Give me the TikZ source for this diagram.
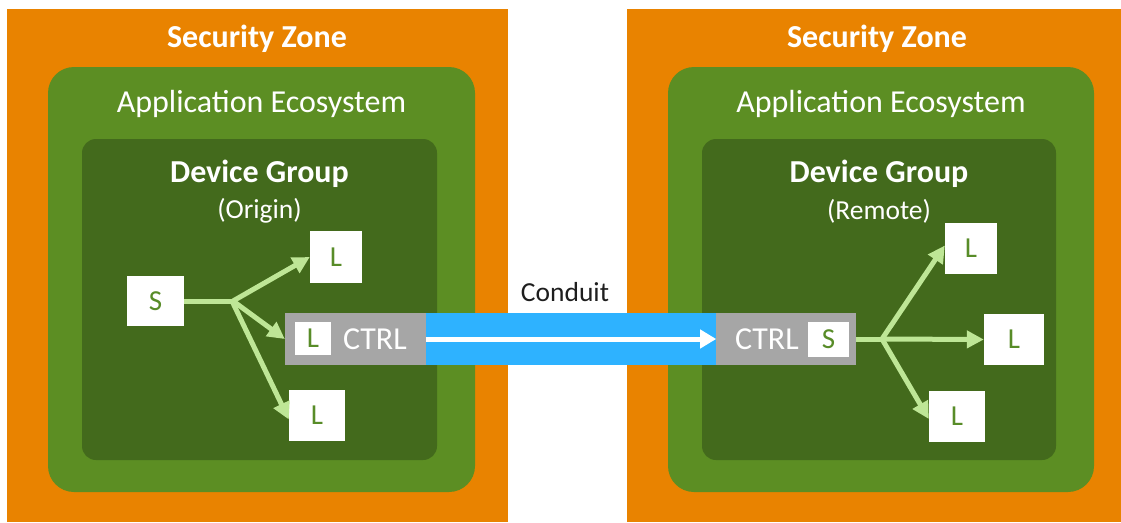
\documentclass[tikz,border=0pt]{standalone}
\usepackage{fontspec}
\setmainfont{Carlito}
\usetikzlibrary{arrows.meta}
\definecolor{zoneor}{RGB}{233,131,0}
\definecolor{ecogreen}{RGB}{92,142,35}
\definecolor{grpgreen}{RGB}{67,106,28}
\definecolor{arrgreen}{RGB}{190,230,150}
\definecolor{lettgreen}{RGB}{88,140,40}
\definecolor{ctrlgray}{RGB}{166,166,166}
\definecolor{conduitblue}{RGB}{46,178,255}
\tikzset{
  zone/.style={fill=zoneor, draw=none},
  eco/.style={fill=ecogreen, draw=none, rounded corners=26pt},
  grp/.style={fill=grpgreen, draw=none, rounded corners=14pt},
  devbox/.style={fill=white, draw=none, inner sep=0pt, text=lettgreen, font=\fontsize{29}{34}\selectfont},
  ctrlbox/.style={fill=ctrlgray, draw=none, inner sep=0pt, minimum width=140pt, minimum height=52pt},
  ctrltext/.style={text=white, font=\fontsize{32}{38}\selectfont},
  ztitle/.style={text=white, font=\bfseries\fontsize{32}{38}\selectfont},
  etitle/.style={text=white, font=\fontsize{32}{38}\selectfont},
  gtitle/.style={text=white, font=\bfseries\fontsize{32}{38}\selectfont},
  gsub/.style={text=white, font=\fontsize{27.5}{32}\selectfont},
  flow/.style={draw=arrgreen, line width=5pt, -{Triangle[length=17pt,width=17pt]}},
  flowline/.style={draw=arrgreen, line width=5pt},
  condarrow/.style={draw=white, line width=5pt, -{Triangle[length=16pt,width=18pt]}},
}
\begin{document}
\begin{tikzpicture}[x=1pt,y=-1pt]
\useasboundingbox (0,0) rectangle (1121,522);
% zones
\fill[zone] (7,9) rectangle (508,522);
\fill[zone] (627,9) rectangle (1121,522);
\fill[eco] (48,67) rectangle (475,492);
\fill[eco] (668,67) rectangle (1094,492);
\fill[grp] (82,139) rectangle (437,460);
\fill[grp] (702,139) rectangle (1056,460);
% titles
\node[ztitle] (zl) at (257,39) {Security Zone};
\node[ztitle] (zr) at (877,39) {Security Zone};
\node[etitle] (el) at (261.5,104) {Application Ecosystem};
\node[etitle] (er) at (881,104) {Application Ecosystem};
\node[gtitle] (gl) at (259.5,174) {Device Group};
\node[gsub] (gls) at (259.5,211) {(Origin)};
\node[gtitle] (gr) at (879,174) {Device Group};
\node[gsub] (grs) at (879,211) {(Remote)};
% conduit
\node[fill=conduitblue, draw=none, inner sep=0pt, minimum width=290pt, minimum height=52pt] (cond) at (571,339) {};
\node[text={rgb,255:red,30;green,30;blue,30}, font=\fontsize{27.5}{32}\selectfont] (condlab) at (565,292) {Conduit};
% left group
\node[ctrlbox, minimum width=141pt] (ctrlL) at (355.5,339) {};
\node[ctrltext] (ctrlLt) at (375,339) {CTRL};
\node[devbox, minimum width=36pt, minimum height=33pt] (innerL) at (313,338.5) {L};
\node[devbox, minimum width=57pt, minimum height=50pt] (S) at (155.5,301) {S};
\node[devbox, minimum width=52pt, minimum height=52pt] (Ltop) at (336,257) {L};
\node[devbox, minimum width=56pt, minimum height=51pt] (Lbot) at (317,415.5) {L};
\coordinate (bL) at (233,301);
% right group
\node[ctrlbox] (ctrlR) at (786,339) {};
\node[ctrltext] (ctrlRt) at (767,339) {CTRL};
\node[devbox, minimum width=41pt, minimum height=35pt] (innerS) at (828.5,339.5) {S};
\node[devbox, minimum width=52pt, minimum height=51pt] (RLtop) at (971,248.5) {L};
\node[devbox, minimum width=60pt, minimum height=51pt] (RLmid) at (1014,339.5) {L};
\node[devbox, minimum width=56pt, minimum height=51pt] (RLbot) at (957,416) {L};
\coordinate (bR) at (883,339);
% connectors
\draw[flowline] (S.east) -- (bL);
\draw[flow] (bL) -- (Ltop.west);
\draw[flow] (bL) -- (ctrlL.west);
\draw[flow] ([xshift=-1pt]bL) -- ([yshift=-4pt]Lbot.west);
\draw[flowline] (ctrlR.east) -- (bR);
\draw[flow] ([xshift=-1pt]bR) -- ([yshift=3pt]RLtop.west);
\draw[flow] (bR) -- (RLmid.west);
\draw[flow] ([xshift=-1pt]bR) -- ([yshift=-3pt]RLbot.west);
\draw[condarrow] (cond.west) -- (cond.east);
\end{tikzpicture}
\end{document}
